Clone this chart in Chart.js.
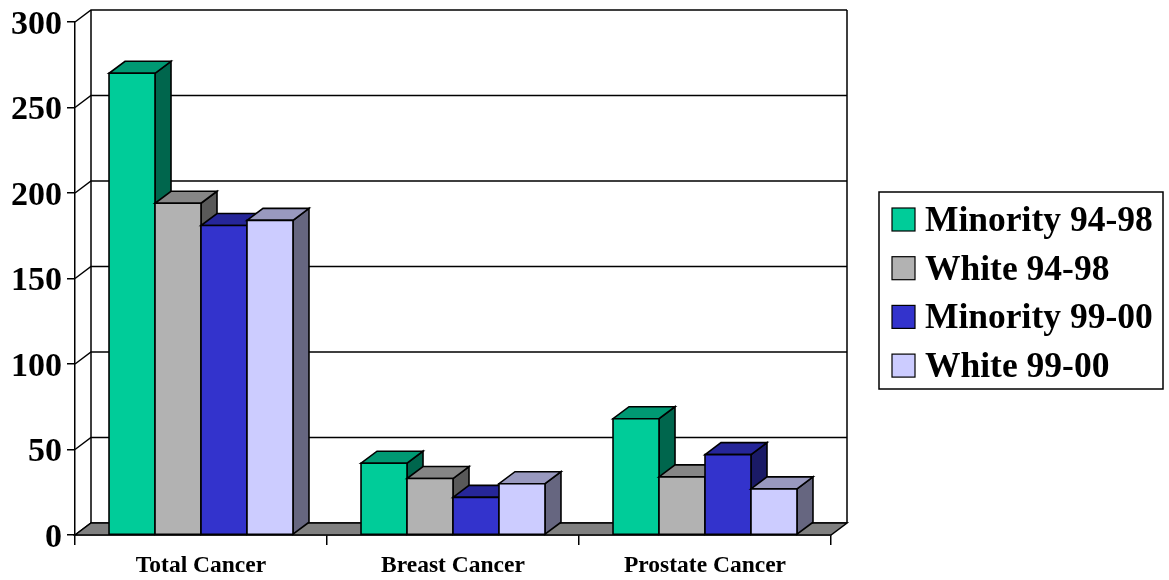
<!DOCTYPE html>
<html>
<head>
<meta charset="utf-8">
<title>Cancer incidence by group</title>
<script src="https://cdn.jsdelivr.net/npm/chart.js@4.4.1/dist/chart.umd.min.js"></script>
<style>
  html, body { margin: 0; padding: 0; background: #ffffff; }
  #wrap { width: 1169px; height: 580px; position: relative; }
  canvas { background: #ffffff; }
</style>
</head>
<body>
<div id="wrap"><canvas id="chart"></canvas></div>
<script>
// Categories and series
const categories = ['Total Cancer', 'Breast Cancer', 'Prostate Cancer'];
const minority9498 = [270, 42, 68];
const white9498    = [194, 33, 34];
const minority9900 = [181, 22, 47];
const white9900    = [184, 30, 27];
const seriesNames  = ['Minority 94-98', 'White 94-98', 'Minority 99-00', 'White 99-00'];
const yTicks = [0, 50, 100, 150, 200, 250, 300];

const fronts = ['#00CC99', '#B2B2B2', '#3333CC', '#CCCCFF'];
const FONT = "'Liberation Serif', 'Times New Roman', serif";
const DX = 16, DY = 12;   // depth offset of the 3-D box

function shade(hex, f) {
  const n = parseInt(hex.slice(1), 16);
  const r = Math.round(((n >> 16) & 255) * f);
  const g = Math.round(((n >> 8) & 255) * f);
  const b = Math.round((n & 255) * f);
  return `rgb(${r},${g},${b})`;
}

function poly(ctx, pts, fill) {
  ctx.beginPath();
  ctx.moveTo(pts[0][0], pts[0][1]);
  for (let i = 1; i < pts.length; i++) ctx.lineTo(pts[i][0], pts[i][1]);
  ctx.closePath();
  if (fill) { ctx.fillStyle = fill; ctx.fill(); }
  ctx.stroke();
}

// Back wall, side-wall gridlines, floor, 3-D bars and the legend box
const wallPlugin = {
  id: 'wall3d',
  beforeDatasetsDraw(chart) {
    const { ctx, chartArea: a, scales: { y } } = chart;
    ctx.save();
    ctx.strokeStyle = '#000';
    ctx.lineWidth = 1.5;
    const yTop = y.getPixelForValue(y.max), yBot = y.getPixelForValue(y.min);
    // back wall frame
    ctx.beginPath();
    ctx.moveTo(a.left + DX, yBot - DY);
    ctx.lineTo(a.left + DX, yTop - DY);
    ctx.moveTo(a.right + DX, yBot - DY);
    ctx.lineTo(a.right + DX, yTop - DY);
    ctx.stroke();
    // gridlines: diagonal on the side wall, horizontal on the back wall
    yTicks.forEach(v => {
      const py = y.getPixelForValue(v);
      ctx.beginPath();
      ctx.moveTo(a.left, py);
      ctx.lineTo(a.left + DX, py - DY);
      ctx.lineTo(a.right + DX, py - DY);
      ctx.stroke();
    });
    // floor
    ctx.lineJoin = 'miter';
    poly(ctx, [[a.left, yBot], [a.right, yBot], [a.right + DX, yBot - DY], [a.left + DX, yBot - DY]], '#808080');
    ctx.restore();
  },
  afterDatasetsDraw(chart) {
    const { ctx } = chart;
    ctx.save();
    ctx.strokeStyle = '#000';
    ctx.lineWidth = 1.6;
    ctx.lineJoin = 'miter';
    const n = chart.data.labels.length;
    // left to right, so each box covers the side face of its left neighbour
    for (let j = 0; j < n; j++) {
      chart.data.datasets.forEach((ds, i) => {
        const el = chart.getDatasetMeta(i).data[j];
        const L = el.x - el.width / 2, R = el.x + el.width / 2;
        const T = el.y, B = el.base;
        const c = ds.backgroundColor;
        poly(ctx, [[R, T], [R + DX, T - DY], [R + DX, B - DY], [R, B]], shade(c, 0.5));
        poly(ctx, [[L, T], [R, T], [R + DX, T - DY], [L + DX, T - DY]], shade(c, 0.75));
        poly(ctx, [[L, T], [R, T], [R, B], [L, B]], c);
      });
    }
    ctx.restore();
  },
  afterDraw(chart) {
    const { ctx } = chart;
    ctx.save();
    const bx = 879, by = 192, bw = 284, bh = 197;
    ctx.fillStyle = '#fff';
    ctx.fillRect(bx, by, bw, bh);
    ctx.strokeStyle = '#000';
    ctx.lineWidth = 1.5;
    ctx.strokeRect(bx, by, bw, bh);
    ctx.font = `bold 35.5px ${FONT}`;
    ctx.textBaseline = 'alphabetic';
    ctx.textAlign = 'left';
    chart.data.datasets.forEach((ds, i) => {
      const cy = 219.5 + i * 48.7;
      ctx.fillStyle = ds.backgroundColor;
      ctx.fillRect(892, cy - 11.5, 23, 23);
      ctx.lineWidth = 1.2;
      ctx.strokeRect(892, cy - 11.5, 23, 23);
      ctx.fillStyle = '#000';
      ctx.fillText(ds.label, 925, cy + 11.5);
    });
    ctx.restore();
  }
};

const seriesValues = [minority9498, white9498, minority9900, white9900];

new Chart(document.getElementById('chart'), {
  type: 'bar',
  data: {
    labels: categories,
    datasets: seriesValues.map((vals, i) => ({
      label: seriesNames[i],
      data: vals,
      backgroundColor: fronts[i],
      borderColor: '#000',
      borderWidth: 0,
      categoryPercentage: 0.73,
      barPercentage: 1.0
    }))
  },
  options: {
    responsive: true,
    maintainAspectRatio: false,
    animation: false,
    events: [],
    layout: { padding: { top: 22, right: 338, left: 0, bottom: 0 } },
    plugins: { legend: { display: false }, tooltip: { enabled: false } },
    scales: {
      x: {
        grid: { display: true, drawOnChartArea: false, drawTicks: true, tickLength: 10, color: '#000', lineWidth: 1.5, offset: true },
        border: { display: true, color: '#000', width: 1.5 },
        ticks: { color: '#000', padding: 7, maxRotation: 0, font: { family: FONT, size: 23.5, weight: 'bold' } },
        afterFit(s) { s.height = 45; s.paddingLeft = 0; s.paddingRight = 0; }
      },
      y: {
        min: 0, max: 300,
        grid: { display: true, drawOnChartArea: false, drawTicks: true, tickLength: 8, color: '#000', lineWidth: 1.5 },
        border: { display: true, color: '#000', width: 1.5 },
        ticks: { stepSize: 50, color: '#000', padding: 5, labelOffset: 3, font: { family: FONT, size: 34, weight: 'bold' } },
        afterFit(s) { s.width = 75; s.paddingTop = 0; s.paddingBottom = 0; }
      }
    }
  },
  plugins: [wallPlugin]
});
</script>
</body>
</html>
